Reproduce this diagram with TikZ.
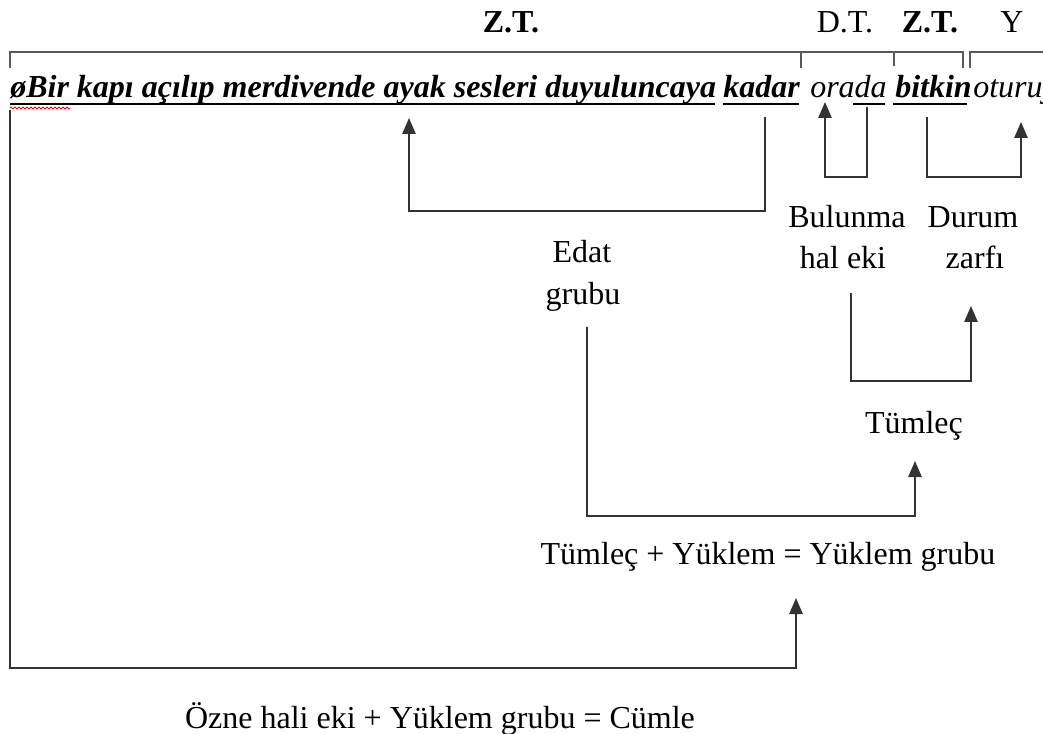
\documentclass[tikz,border=0pt]{standalone}
\usepackage{fontspec}
\setmainfont{Liberation Serif}
\usetikzlibrary{arrows.meta,decorations.pathmorphing}
\tikzset{
  txt/.style={inner sep=0pt, anchor=base, font=\fontsize{24}{29}\selectfont},
  btxt/.style={txt, font=\fontsize{24}{29}\selectfont\bfseries},
  sent/.style={inner sep=0pt, anchor=base west, font=\fontsize{24}{29}\selectfont\bfseries\itshape},
  isent/.style={inner sep=0pt, anchor=base west, font=\fontsize{24}{29}\selectfont\itshape},
  conn/.style={draw=black!80, line width=1.25pt},
  arr/.style={conn, -{Triangle[width=10pt,length=12pt]}},
  brk/.style={draw=black!65, line width=1.6pt},
  ul/.style={draw=black, line width=1.7pt},
  thinul/.style={draw=black, line width=0.8pt},
}
\begin{document}
\begin{tikzpicture}[x=0.75pt,y=-0.75pt]
\clip (0,0) rectangle (1043,734);
\fill[white] (0,0) rectangle (1043,734);
% top labels
\node[btxt] (zt1) at (511,33) {Z.T.};
\node[txt] (dt) at (845,33) {D.T.};
\node[btxt] (zt2) at (930,33) {Z.T.};
\node[txt] (yy) at (1012,33) {Y};
% brackets
\draw[brk] (10,68) -- (10,52) -- (963,52) -- (963,68);
\draw[brk] (801,52) -- (801,68);
\draw[brk] (894,52) -- (894,66);
\draw[brk] (970,68) -- (970,52) -- (1043,52);
% sentence
\node[sent] (s1) at (10,98) {øBir kapı açılıp merdivende ayak sesleri duyuluncaya};
\node[sent] (s2) at (723,98) {kadar};
\node[isent] (s3) at (810,98) {orada};
\node[sent] (s4) at (895,98) {bitkin};
\node[isent] (s5) at (973,98) {oturuyordu};
\draw[ul] (10,104) -- (715,104);
\draw[ul] (723,104) -- (799,104);
\draw[thinul] (853,104) -- (885,104);
\draw[ul] (893,104) -- (967,104);
\draw[red, line width=0.6pt, decorate, decoration={zigzag, segment length=3pt, amplitude=0.8pt}] (10,108) -- (70,108);
% connector end points
\coordinate (c1s) at (765,117);
\coordinate (c1e) at (409,118);
\coordinate (c2s) at (867,107);
\coordinate (c2e) at (825,102);
\coordinate (c3s) at (927,117);
\coordinate (c3e) at (1021,122);
\coordinate (c4s) at (851,293);
\coordinate (c4e) at (971,306);
\coordinate (c5s) at (587,327);
\coordinate (c5e) at (915,461);
\coordinate (c6s) at (10,110);
\coordinate (c6e) at (796,598);
% labels
\node[txt] (bul1) at (847,228) {Bulunma};
\node[txt] (bul2) at (843,269) {hal eki};
\node[txt] (dur1) at (973,228) {Durum};
\node[txt] (dur2) at (975,269) {zarfı};
\node[txt] (ed1) at (582,263) {Edat};
\node[txt] (ed2) at (583,305) {grubu};
\node[txt] (tum) at (914,433) {Tümleç};
\node[txt] (yg) at (768,564) {Tümleç + Yüklem = Yüklem grubu};
\node[txt] (cum) at (440,728) {Özne hali eki + Yüklem grubu = Cümle};
% connectors
\draw[arr] (c1s) -- (765,211) -- (409,211) -- (c1e);
\draw[arr] (c2s) -- (867,177) -- (825,177) -- (c2e);
\draw[arr] (c3s) -- (927,177) -- (1021,177) -- (c3e);
\draw[arr] (c4s) -- (851,381) -- (971,381) -- (c4e);
\draw[arr] (c5s) -- (587,516) -- (915,516) -- (c5e);
\draw[arr] (c6s) -- (10,668) -- (796,668) -- (c6e);
\end{tikzpicture}
\end{document}
